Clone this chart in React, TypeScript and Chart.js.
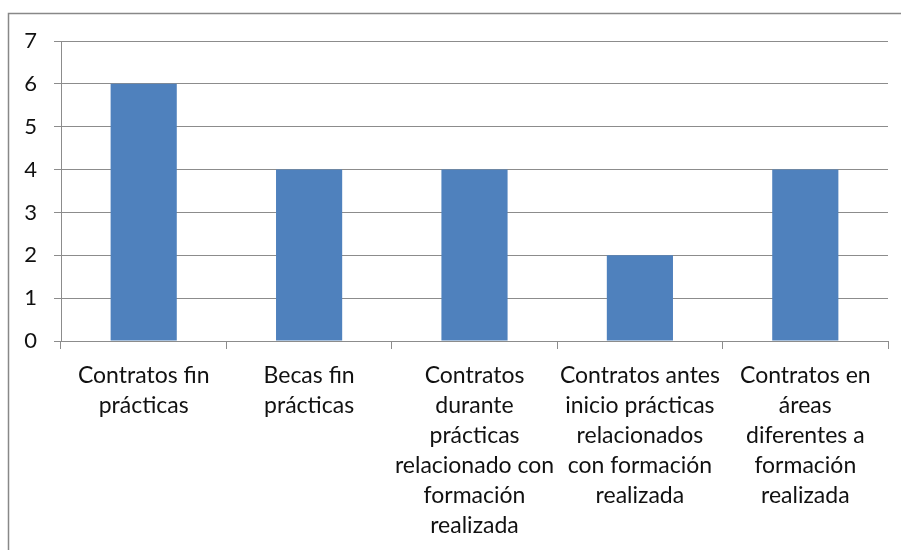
import React, { useEffect, useRef } from "react";
import { Chart, registerables } from "chart.js";

Chart.register(...registerables);

const categories: string[][] = [
  ["Contratos fin", "prácticas"],
  ["Becas fin", "prácticas"],
  ["Contratos", "durante", "prácticas", "relacionado con", "formación", "realizada"],
  ["Contratos antes", "inicio prácticas", "relacionados", "con formación", "realizada"],
  ["Contratos en", "áreas", "diferentes a", "formación", "realizada"],
];
const values: number[] = [6, 4, 4, 2, 4];
const yTicks: number[] = [0, 1, 2, 3, 4, 5, 6, 7];

const FONT = "Lato, 'Open Sans', sans-serif";
const GRID = "#8c8c8c";

const borderPlugin = {
  id: "outerBorder",
  beforeDraw(chart: any) {
    const ctx = chart.ctx;
    ctx.save();
    ctx.fillStyle = "#ffffff";
    ctx.fillRect(0, 0, chart.width, chart.height);
    ctx.strokeStyle = "#888888";
    ctx.lineWidth = 1.5;
    ctx.strokeRect(8.5, 13.5, chart.width + 20, chart.height + 20);
    ctx.restore();
  },
};

export default function App() {
  const ref = useRef<HTMLCanvasElement | null>(null);
  useEffect(() => {
    if (!ref.current) return;
    const chart = new Chart(ref.current, {
      type: "bar",
      data: {
        labels: categories,
        datasets: [
          {
            data: values,
            backgroundColor: "#4F81BD",
            categoryPercentage: 1,
            barPercentage: 0.4,
          },
        ],
      },
      options: {
        animation: false,
        responsive: false,
        maintainAspectRatio: false,
        layout: { padding: { left: 0, right: 13, top: 41, bottom: 0 } },
        plugins: { legend: { display: false }, tooltip: { enabled: false } },
        scales: {
          x: {
            afterFit(scale: any) {
              scale.height = 209;
            },
            grid: {
              offset: true,
              drawOnChartArea: false,
              drawTicks: true,
              tickLength: 8,
              color: GRID,
            },
            border: { display: true, color: GRID, width: 1 },
            ticks: {
              color: "#111",
              padding: 12,
              maxRotation: 0,
              autoSkip: false,
              font: { family: FONT, size: 23, lineHeight: 30 / 23 },
            },
          },
          y: {
            min: 0,
            max: 7,
            afterFit(scale: any) {
              scale.width = 61;
            },
            afterBuildTicks(scale: any) {
              scale.ticks = yTicks.map((v) => ({ value: v }));
            },
            grid: { color: GRID, tickLength: 7, drawTicks: true },
            border: { display: true, color: GRID, width: 1 },
            ticks: {
              color: "#111",
              padding: 17,
              font: { family: FONT, size: 22 },
            },
          },
        },
      },
      plugins: [borderPlugin],
    });
    return () => chart.destroy();
  }, []);
  return (
    <div style={{ position: "absolute", left: 0, top: 0, width: 901, height: 550 }}>
      <canvas ref={ref} width={901} height={550} style={{ display: "block" }} />
    </div>
  );
}
